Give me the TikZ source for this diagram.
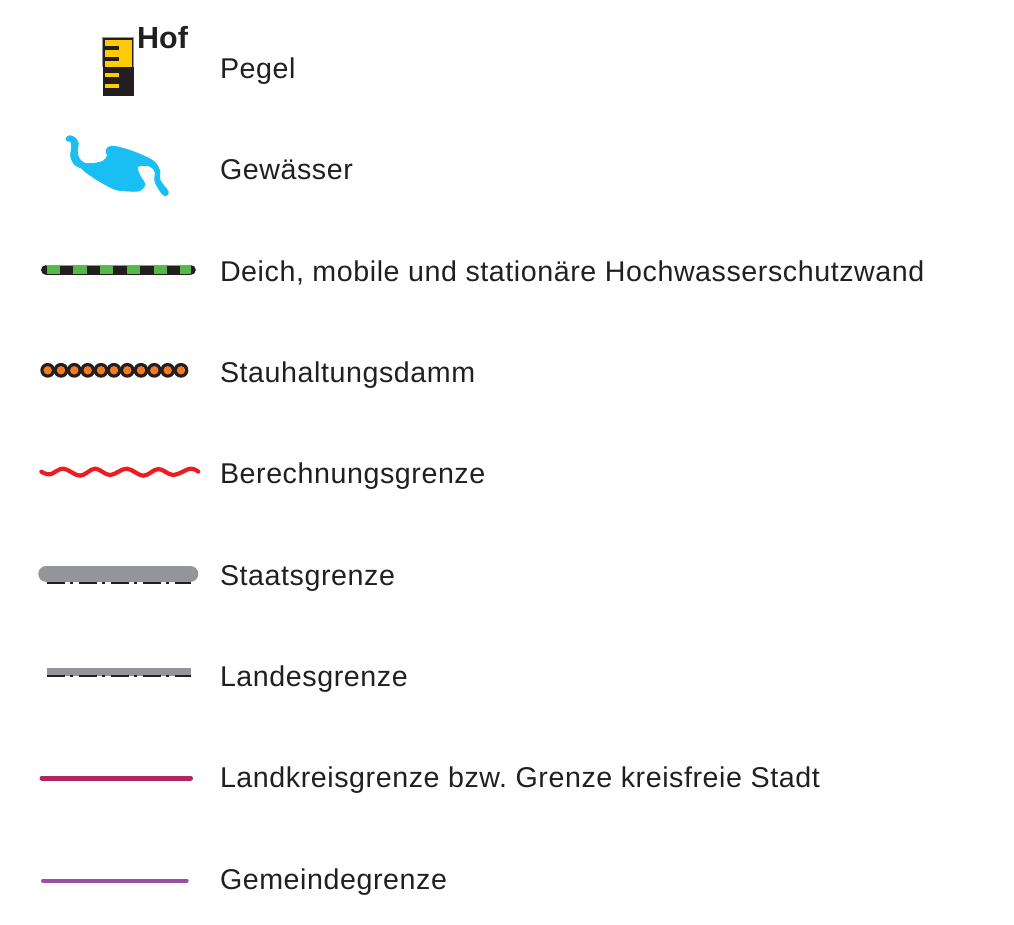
\documentclass[tikz,border=0pt]{standalone}
\usepackage{fontspec}
\setmainfont{Liberation Sans}[LetterSpace=2]
\newfontfamily\hoffont{Liberation Sans}
\frenchspacing
\definecolor{ink}{HTML}{231F20}
\definecolor{water}{HTML}{19BFF3}
\definecolor{gold}{HTML}{FFCB05}
\definecolor{dgreen}{HTML}{55B848}
\definecolor{orng}{HTML}{F47B20}
\definecolor{redl}{HTML}{ED1C24}
\definecolor{gr}{HTML}{939598}
\definecolor{kreis}{HTML}{B0275F}
\definecolor{gem}{HTML}{9B4F9E}
\tikzset{
  lbl/.style={anchor=base west,inner sep=0pt,outer sep=0pt,text=ink,font=\fontsize{28.62}{30}\selectfont},
  dashdot/.style={ink,line width=2pt,dash pattern=on 18pt off 5.3pt on 3.3pt off 5.4pt},
}
\begin{document}
\begin{tikzpicture}[x=1pt,y=-1pt]
\useasboundingbox (0,0) rectangle (1014,924);
% Pegel symbol
\fill[ink] (102.7,37.7) rectangle (133.7,95.7);
\fill[gold] (104.7,39.7) rectangle (132,66.7);
\draw[gr,line width=0.9pt] (102.9,67) -- (102.9,37.9) -- (133.5,37.9) -- (133.5,67);
\fill[ink] (105,46) rectangle (119,50);
\fill[ink] (105,57) rectangle (119,61);
\fill[gold] (105,73) rectangle (119,77);
\fill[gold] (105,84) rectangle (119,88);
\node[anchor=base west,inner sep=0,text=ink,font=\hoffont\bfseries\fontsize{30.5}{32}\selectfont] (hof) at (137,48.5) {Hof};
\node[lbl] (t1) at (220,78) {Pegel};
% water (zoom coordinates converted)
\begin{scope}[shift={(50,125)},x=0.3333pt,y=-0.3333pt]
\filldraw[water,line width=0.7pt,line join=round] plot[smooth cycle,tension=0.55] coordinates {
 (48,40) (58,32) (75,38) (85,55) (82,75) (85,95) (100,113) (130,115) (160,108)
 (172,92) (168,75) (185,63) (230,73) (280,92) (315,112) (330,140) (330,165)
 (355,200) (348,212) (335,205) (315,170) (315,140) (300,124) (270,122) (262,132)
 (275,160) (285,178) (270,197) (230,198) (195,193) (150,170) (105,140) (95,130)
 (75,120) (62,95) (65,65) (62,50) (52,48)};
\end{scope}
\node[lbl] (t2) at (220,179) {Gewässer};
% dike
\draw[ink,line width=10.6pt,line cap=round] (46.3,270) -- (190.5,270);
\foreach \a/\b in {46.7/60,73.3/86.7,100/113,126.7/140,153.7/166.7,180/190.7}{\fill[dgreen] (\a,265.7) rectangle (\b,274.3);}
\draw[gr,line width=0.8pt] (46.3,265) -- (190.5,265);
\node[lbl] (t3) at (220,281) {Deich, mobile und stationäre Hochwasserschutzwand};
% dam
\foreach \x in {47.7,61,74.3,87.7,101,114,127.3,141,154.3,167.7,181}{
  \fill[ink] (\x,370.3) circle (7.4);
  \fill[orng] (\x,370.3) circle (4.2);
}
\node[lbl] (t4) at (220,382) {Stauhaltungsdamm};
% red wave
\begin{scope}[shift={(30,455)},x=0.3333pt,y=-0.3333pt]
\draw[redl,line width=4.2pt,line cap=round] plot[smooth,tension=0.6] coordinates {
 (34,50) (60,58) (100,41) (150,62) (195,41) (240,60) (290,41) (340,62) (385,42) (430,60) (480,41) (505,50)};
\end{scope}
\node[lbl] (t5) at (220,483) {Berechnungsgrenze};
% state border
\draw[dashdot] (46.7,582.8) -- (190.5,582.8);
\fill[gr,rounded corners=7.8pt] (38.3,566) rectangle (198.3,581.8);
\node[lbl] (t6) at (220,585) {Staatsgrenze};
% land border
\fill[gr] (46.7,667.7) rectangle (190.5,675.7);
\draw[dashdot] (46.7,676.4) -- (190.5,676.4);
\node[lbl] (t7) at (220,686) {Landesgrenze};
% kreis
\draw[kreis,line width=5pt,line cap=round] (42,778) -- (190.5,778);
\node[lbl] (t8) at (220,787) {Landkreisgrenze bzw. Grenze kreisfreie Stadt};
% gemeinde
\draw[gem,line width=4pt,line cap=round] (43,880.5) -- (186.7,880.5);
\node[lbl] (t9) at (220,889) {Gemeindegrenze};
\end{tikzpicture}
\end{document}
